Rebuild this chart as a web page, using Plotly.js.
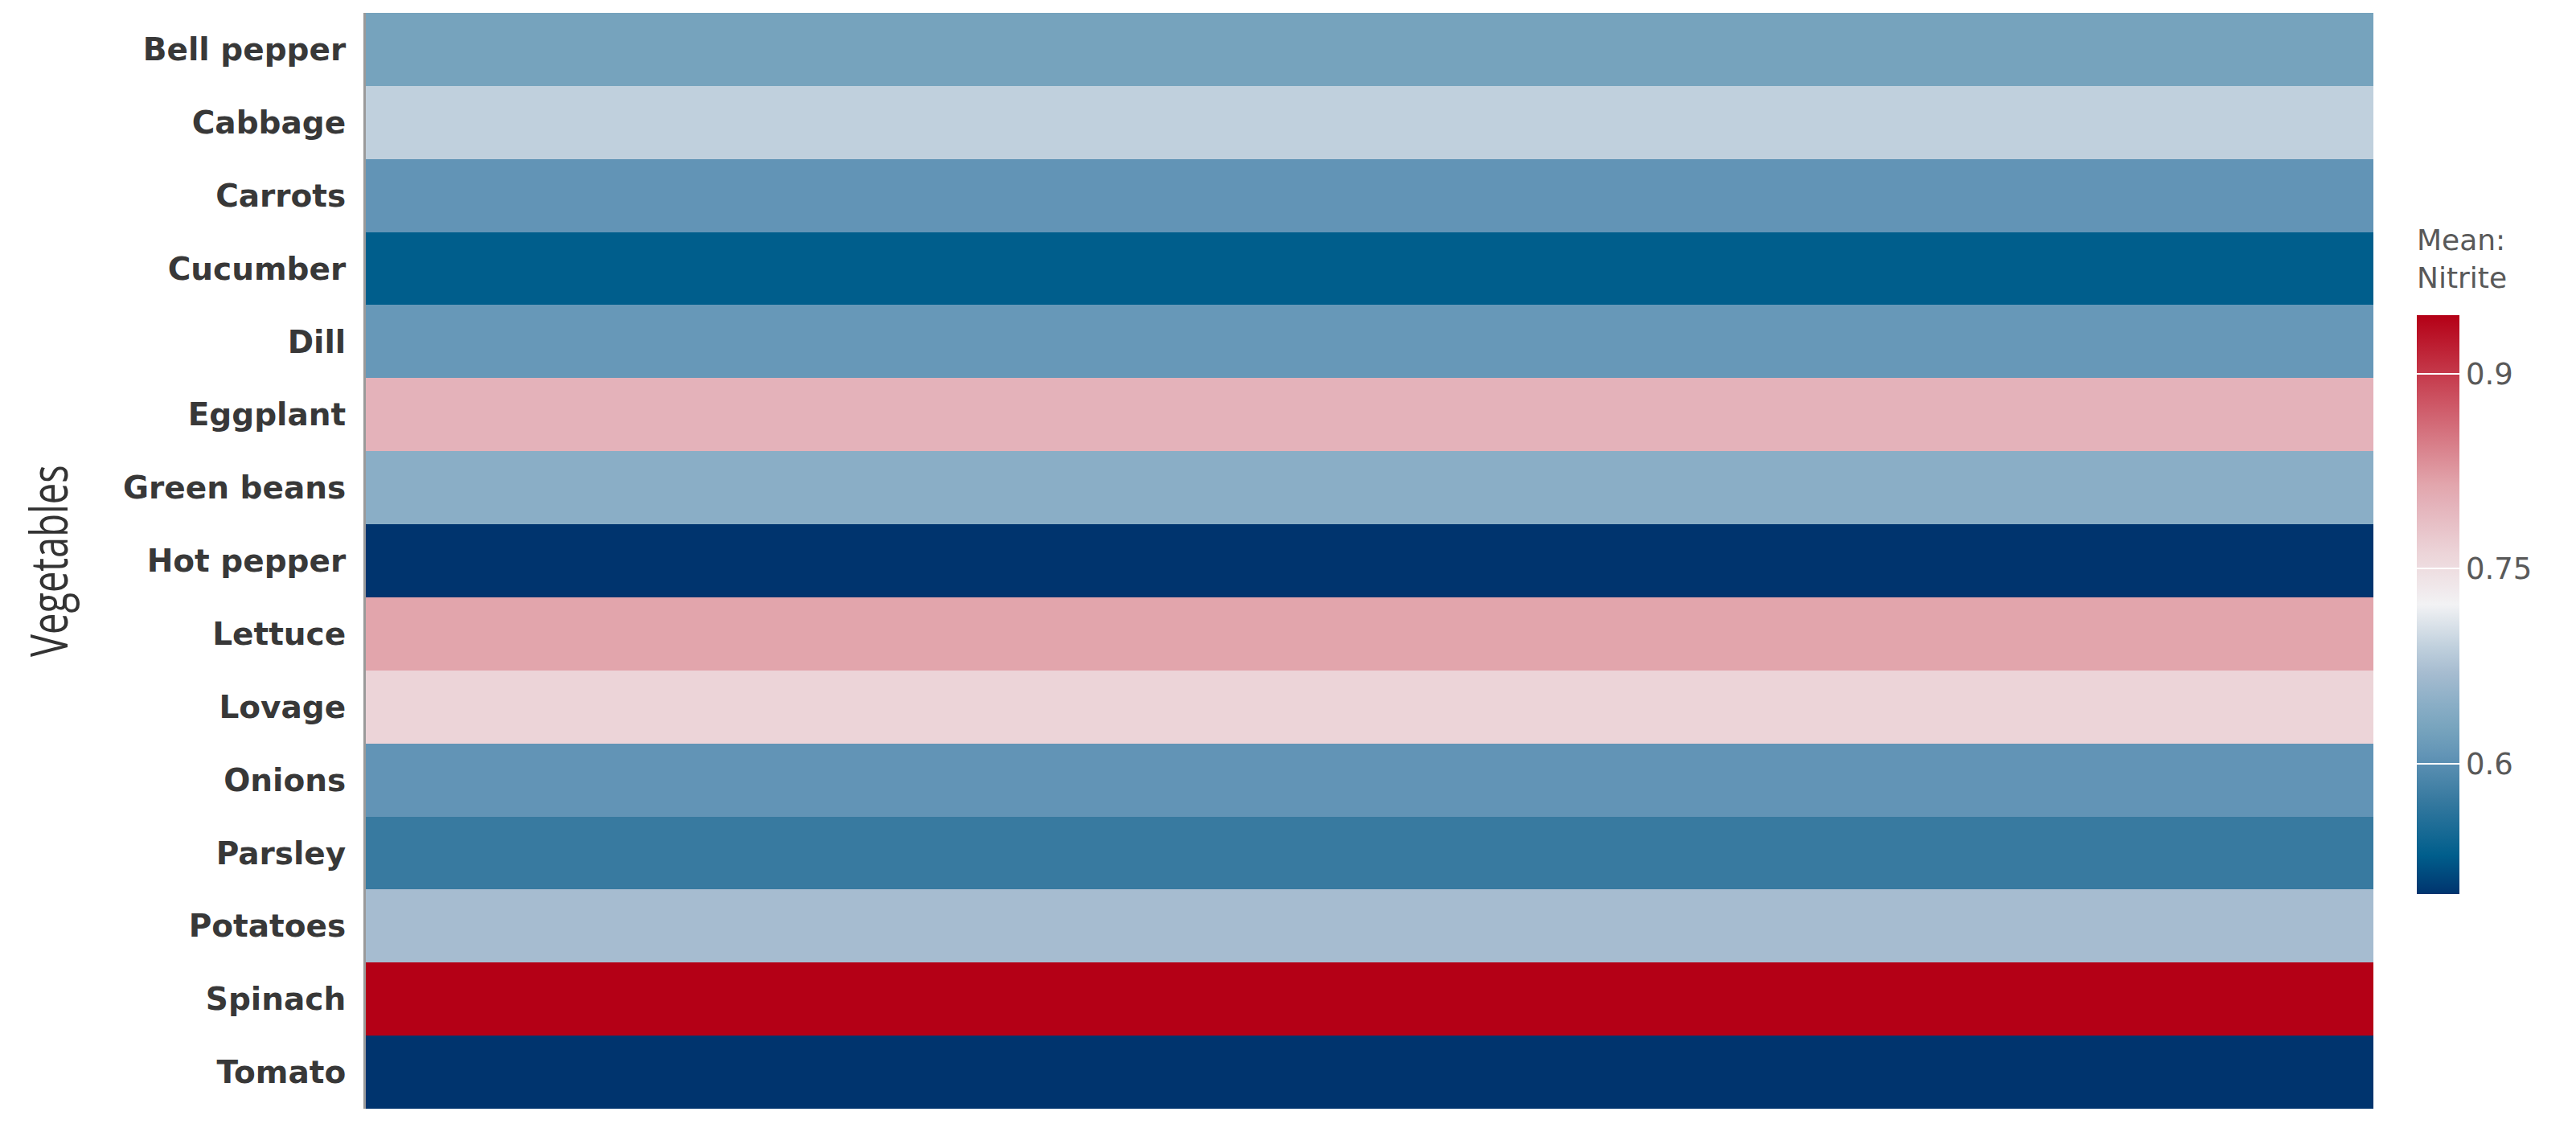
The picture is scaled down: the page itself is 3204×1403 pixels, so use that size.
<!DOCTYPE html>
<html>
<head>
<meta charset="utf-8">
<script src="https://cdn.plot.ly/plotly-3.0.1.min.js"></script>
<style>html,body{margin:0;padding:0;background:#fff;}#chart{width:3204px;height:1403px;}</style>
</head>
<body>
<div id="chart"></div>
<script>
const vegetables = ['Bell pepper','Cabbage','Carrots','Cucumber','Dill','Eggplant','Green beans',
  'Hot pepper','Lettuce','Lovage','Onions','Parsley','Potatoes','Spinach','Tomato'];
const nitrite = [0.626, 0.69, 0.607, 0.53, 0.612, 0.80, 0.646, 0.50, 0.815, 0.762, 0.607, 0.573, 0.67, 0.945, 0.50];
const columnLabels = ['Nitrite'];
const colorbarTicks = [0.6, 0.75, 0.9];
const colorbarTitle = 'Mean:<br>Nitrite';
const yTitle = 'Vegetables';

const colorscale = [
  [0.0,  'rgb(0,52,110)'],
  [0.067,'rgb(0,94,140)'],
  [0.164,'rgb(56,122,160)'],
  [0.24, 'rgb(98,148,182)'],
  [0.283,'rgb(118,163,189)'],
  [0.328,'rgb(138,174,198)'],
  [0.382,'rgb(166,188,208)'],
  [0.427,'rgb(192,208,221)'],
  [0.5,  'rgb(242,242,244)'],
  [0.589,'rgb(236,212,216)'],
  [0.674,'rgb(228,178,186)'],
  [0.708,'rgb(226,165,172)'],
  [0.85, 'rgb(205,85,100)'],
  [1.0,  'rgb(180,0,22)']
];

const W = 3204, H = 1403;
const L = 455, R = 2952, T = 16, B = 1379;
const trace = {
  type: 'heatmap',
  x: columnLabels,
  y: vegetables,
  z: nitrite.map(v => [v]),
  colorscale: colorscale,
  showscale: true,
  colorbar: {
    xref: 'container', x: 3006 / W, xanchor: 'left',
    yref: 'container', y: 1 - 774 / H, yanchor: 'middle',
    lenmode: 'pixels', len: 720,
    thickness: 53,
    outlinewidth: 0,
    tickvals: colorbarTicks,
    ticktext: colorbarTicks.map(String),
    tickprefix: '\u00a0\u00a0',
    ticks: 'inside', ticklen: 53, tickcolor: '#ffffff', tickwidth: 2,
    tickfont: {family: 'DejaVu Sans, sans-serif', size: 37, color: '#595959'},
    xpad: 0, ypad: 0
  }
};

const layout = {
  width: W, height: H,
  margin: {l: L, r: W - R, t: T, b: H - B},
  paper_bgcolor: '#ffffff',
  plot_bgcolor: '#ffffff',
  font: {family: 'DejaVu Sans, sans-serif', color: '#333333'},
  xaxis: {showticklabels: false, ticks: '', showgrid: false, zeroline: false, showline: false},
  yaxis: {
    autorange: 'reversed',
    showgrid: false, zeroline: false,
    showline: true, linecolor: '#9a9a9a', linewidth: 3,
    ticks: '', ticklabelstandoff: 14,
    tickfont: {family: 'DejaVu Sans, sans-serif', size: 39, weight: 'bold', color: '#383838'}
  },
  annotations: [{
    text: yTitle,
    xref: 'paper', yref: 'paper',
    x: (60 - L) / (R - L), y: (B - 698) / (B - T),
    xanchor: 'center', yanchor: 'middle', textangle: -90,
    showarrow: false,
    font: {family: 'Open Sans, sans-serif', size: 47, color: '#333333'}
  }, {
    text: colorbarTitle,
    xref: 'paper', yref: 'paper',
    x: (3004 - L) / (R - L), y: (B - 276) / (B - T),
    xanchor: 'left', yanchor: 'top', align: 'left',
    showarrow: false,
    font: {family: 'DejaVu Sans, sans-serif', size: 36, color: '#595959'}
  }]
};

Plotly.newPlot('chart', [trace], layout, {displayModeBar: false, staticPlot: true}).then(gd => {
  // the reference's axis title is drawn with tall, narrow glyphs: stretch it across its height
  const t = gd.querySelector('.annotation[data-index="0"] text.annotation-text');
  if (t) {
    const bb = t.getBBox();
    const cx = bb.x + bb.width / 2, cy = bb.y + bb.height / 2;
    const prev = t.getAttribute('transform') || '';
    t.setAttribute('transform', prev + ' translate(' + cx + ' ' + cy + ') scale(1 1.35) translate(' + (-cx) + ' ' + (-cy) + ')');
  }
});
</script>
</body>
</html>
